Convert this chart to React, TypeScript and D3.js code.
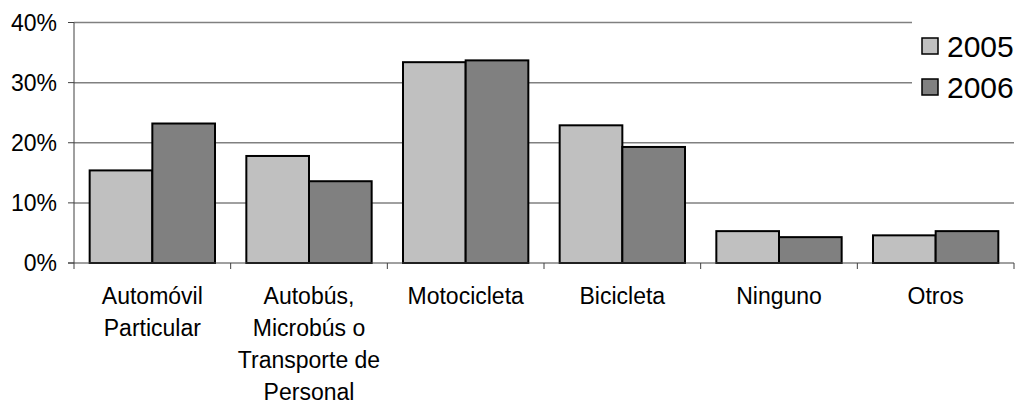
import React from "react";
import * as d3 from "d3";

// categories (multi-line labels) and the two years
const categories = [
  ["Automóvil", "Particular"],
  ["Autobús,", "Microbús o", "Transporte de", "Personal"],
  ["Motocicleta"],
  ["Bicicleta"],
  ["Ninguno"],
  ["Otros"],
];
const years = ["2005", "2006"];
const values2005 = [15.4, 17.8, 33.4, 22.9, 5.3, 4.6];
const values2006 = [23.2, 13.6, 33.7, 19.3, 4.3, 5.3];
const yTicks = [0, 10, 20, 30, 40];
const colors = ["#c0c0c0", "#808080"];

const width = 1023;
const height = 405;
const marginLeft = 74;
const marginRight = 9;
const marginTop = 22.5;
const plotBottom = 263;

const App: React.FC = () => {
  const series = [values2005, values2006];
  const idx = categories.map((_, i) => i.toString());

  const x = d3
    .scaleBand()
    .domain(idx)
    .range([marginLeft, width - marginRight])
    .paddingInner(0)
    .paddingOuter(0);

  const step = x.bandwidth();
  const gap = step / 10; // half of the 50% gap on each side of a group
  const x1 = d3
    .scaleBand()
    .domain(years)
    .range([gap, step - gap]);

  const y = d3.scaleLinear().domain([0, 40]).range([plotBottom, marginTop]);

  const font = "'Liberation Sans', Arial, sans-serif";

  return (
    <div style={{ position: "absolute", left: 0, top: 0 }}>
      <svg width={width} height={height} style={{ display: "block", background: "#fff" }}>
        {/* gridlines */}
        {yTicks.slice(1).map((t) => (
          <line
            key={"g" + t}
            x1={marginLeft}
            x2={width - marginRight}
            y1={y(t)}
            y2={y(t)}
            stroke="#808080"
            strokeWidth={1.5}
          />
        ))}

        {/* bars */}
        {series.map((vals, si) =>
          vals.map((v, i) => (
            <rect
              key={si + "-" + i}
              x={(x(i.toString()) as number) + (x1(years[si]) as number)}
              y={y(v)}
              width={x1.bandwidth()}
              height={y(0) - y(v)}
              fill={colors[si]}
              stroke="#000"
              strokeWidth={2}
            />
          )),
        )}

        {/* y axis */}
        <line x1={marginLeft} x2={marginLeft} y1={marginTop} y2={plotBottom} stroke="#404040" strokeWidth={1} />
        {yTicks.map((t) => (
          <g key={"y" + t}>
            <line x1={marginLeft - 6} x2={marginLeft} y1={y(t)} y2={y(t)} stroke="#404040" strokeWidth={1} />
            <text
              x={57}
              y={y(t)}
              dy="0.36em"
              textAnchor="end"
              fontFamily={font}
              fontSize={23}
              fill="#000"
            >
              {t + "%"}
            </text>
          </g>
        ))}

        {/* x axis */}
        <line x1={marginLeft - 6} x2={width - marginRight} y1={plotBottom} y2={plotBottom} stroke="#404040" strokeWidth={1} />
        {idx.concat([categories.length.toString()]).map((k, i) => {
          const xp = i < categories.length ? (x(k) as number) : width - marginRight;
          return (
            <line key={"xt" + k} x1={xp} x2={xp} y1={plotBottom} y2={plotBottom + 6} stroke="#404040" strokeWidth={1} />
          );
        })}
        {categories.map((lines, i) => (
          <text
            key={"c" + i}
            x={(x(i.toString()) as number) + step / 2}
            y={304}
            textAnchor="middle"
            fontFamily={font}
            fontSize={23}
            fill="#000"
          >
            {lines.map((l, j) => (
              <tspan key={j} x={(x(i.toString()) as number) + step / 2} dy={j === 0 ? 0 : 32}>
                {l}
              </tspan>
            ))}
          </text>
        ))}

        {/* legend */}
        <rect x={912} y={14} width={102} height={98} fill="#fff" />
        {years.map((yr, i) => (
          <g key={"l" + yr} transform={`translate(922,${38 + i * 41})`}>
            <rect x={0} y={0} width={16} height={16} fill={colors[i]} stroke="#000" strokeWidth={1.5} />
            <text x={25} y={19} fontFamily={font} fontSize={30} fill="#000">
              {yr}
            </text>
          </g>
        ))}
      </svg>
    </div>
  );
};

export default App;
